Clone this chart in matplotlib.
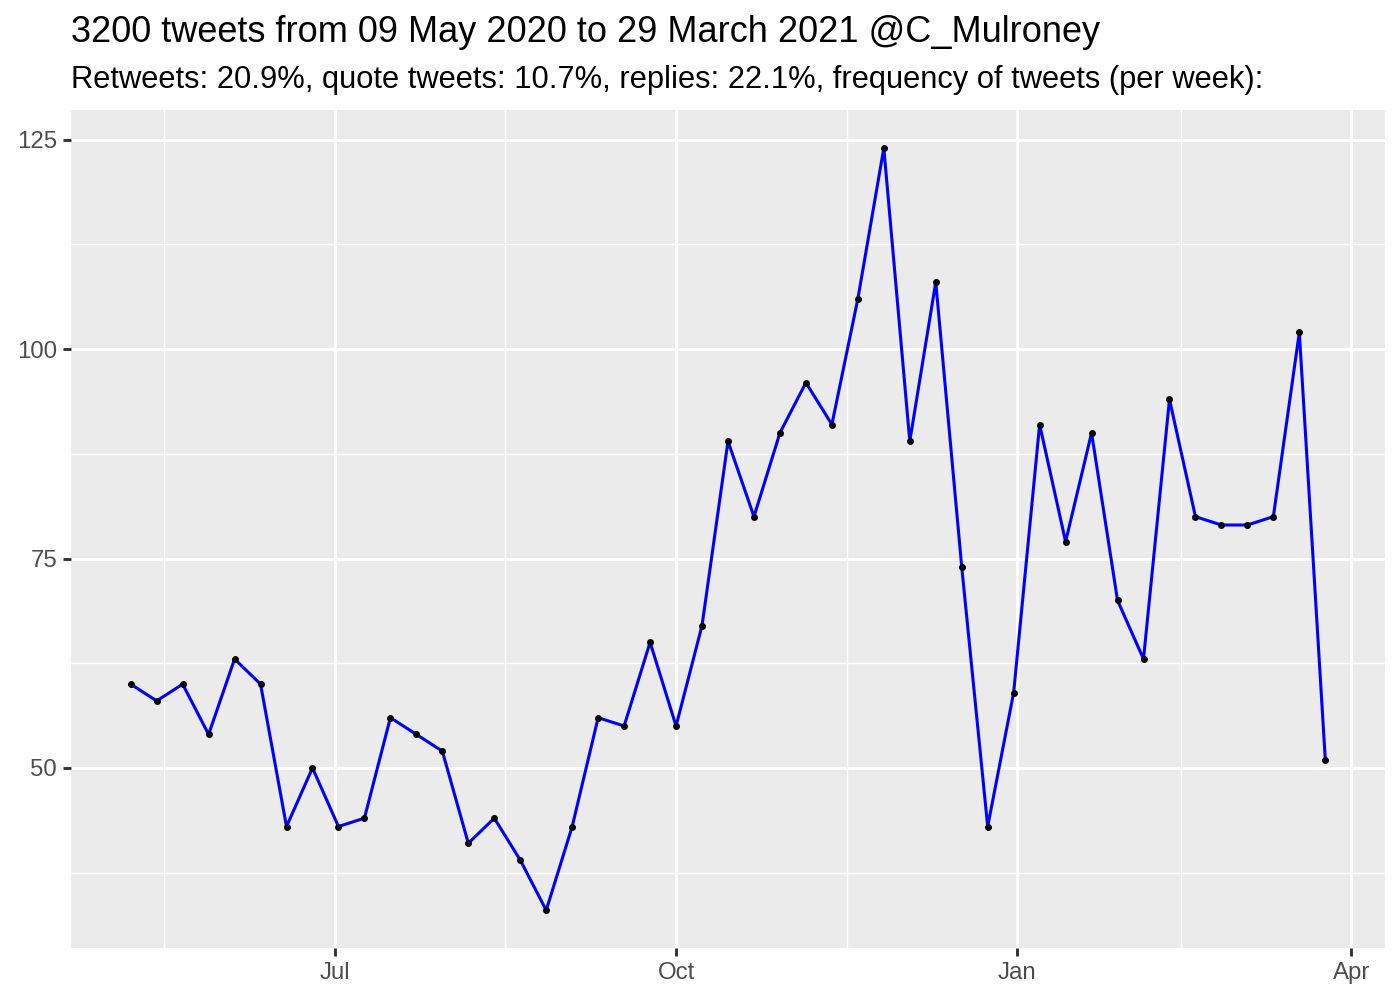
import numpy as np
import matplotlib
matplotlib.use("Agg")
from matplotlib import pyplot as plt
import matplotlib.dates as mdates
from datetime import date, timedelta

plt.rcParams['font.family'] = ['Liberation Sans', 'DejaVu Sans']

# Weekly tweet counts, one per week starting 07 May 2020
start = date(2020, 5, 7)
counts = [60, 58, 60, 54, 63, 60, 43, 50, 43, 44,
          56, 54, 52, 41, 44, 39, 33, 43, 56, 55,
          65, 55, 67, 89, 80, 90, 96, 91, 106, 124,
          89, 108, 74, 43, 59, 91, 77, 90, 70, 63,
          94, 80, 79, 79, 80, 102, 51]
weeks = [start + timedelta(weeks=i) for i in range(len(counts))]

title = "3200 tweets from 09 May 2020 to 29 March 2021 @C_Mulroney"
subtitle = ("Retweets: 20.9%, quote tweets: 10.7%, replies: 22.1%, "
            "frequency of tweets (per week):")

fig = plt.figure(figsize=(14, 10), dpi=100)
ax = fig.add_axes([0.0507, 0.0516, 0.9386, 0.8384])
ax.set_facecolor("#EBEBEB")
for s in ax.spines.values():
    s.set_visible(False)

ax.plot(weeks, counts, color="blue", lw=2.2, zorder=3)
ax.scatter(weeks, counts, color="black", s=16, zorder=4)

ax.margins(x=0.05, y=0.05)

# major/minor breaks like ggplot
ax.xaxis.set_major_locator(mdates.MonthLocator(bymonth=[1, 4, 7, 10]))
ax.xaxis.set_major_formatter(mdates.DateFormatter("%b"))
minor_x = [date(2020, 5, 16), date(2020, 8, 16), date(2020, 11, 16), date(2021, 2, 14)]
ax.set_xticks(minor_x, minor=True)
ax.set_yticks([50, 75, 100, 125])
ax.set_yticks([37.5, 62.5, 87.5, 112.5], minor=True)

ax.grid(which="major", color="white", lw=2.1)
ax.grid(which="minor", color="white", lw=1.05)
ax.set_axisbelow(True)

ax.tick_params(which="major", length=5.5, width=2.1, color="#333333",
               labelsize=17.3, labelcolor="#4D4D4D", pad=4.4)
ax.tick_params(which="minor", length=0)

fig.text(0.0507, 0.967, title, fontsize=26, va="center", ha="left")
fig.text(0.0507, 0.920, subtitle, fontsize=22.2, va="center", ha="left")

fig.savefig("out.png", dpi=100)
